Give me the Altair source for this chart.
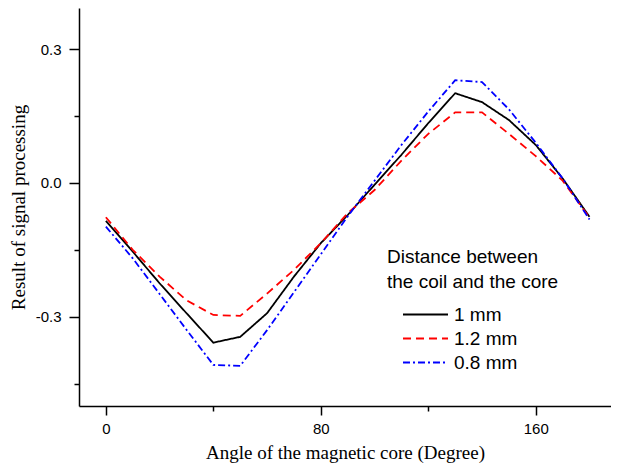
import altair as alt
import pandas as pd

angles = list(range(0, 181, 10))
s_1mm = [-0.085, -0.154, -0.225, -0.292, -0.358, -0.345, -0.292, -0.210, -0.135, -0.072,
         -0.004, 0.063, 0.134, 0.201, 0.181, 0.141, 0.085, 0.010, -0.076]
s_12mm = [-0.077, -0.150, -0.210, -0.263, -0.296, -0.298, -0.248, -0.195, -0.135, -0.068,
          -0.016, 0.050, 0.110, 0.158, 0.158, 0.110, 0.060, 0.005, -0.078]
s_08mm = [-0.098, -0.169, -0.249, -0.329, -0.408, -0.410, -0.330, -0.245, -0.160, -0.075,
          0.005, 0.085, 0.160, 0.230, 0.226, 0.165, 0.090, 0.010, -0.082]
series_names = ["1 mm", "1.2 mm", "0.8 mm"]
series_colors = ["#000000", "#ff0000", "#0000ff"]
series_dashes = [[1, 0], [8, 5], [7, 3, 2, 3]]
x_ticks = [0, 40, 80, 120, 160]
y_ticks = [-0.45, -0.3, -0.15, 0.0, 0.15, 0.3]

rows = []
for name, vals in zip(series_names, [s_1mm, s_12mm, s_08mm]):
    for a, v in zip(angles, vals):
        rows.append({"angle": a, "value": v, "series": name})
df = pd.DataFrame(rows)

legend = alt.Legend(
    title=["Distance between", "the coil and the core"],
    orient="none", legendX=308, legendY=240,
    symbolType="M-3,0H3", symbolSize=225, symbolStrokeWidth=2,
    symbolOffset=29, labelOffset=19,
    labelFont="Liberation Sans", labelFontSize=19, labelColor="black",
    titleFont="Liberation Sans", titleFontSize=19, titleFontWeight="normal",
    titleColor="black", titleLineHeight=25, titlePadding=13,
    rowPadding=4, padding=0,
)

chart = alt.Chart(df).mark_line(strokeWidth=1.8).encode(
    x=alt.X("angle:Q", scale=alt.Scale(domain=[-10, 188], nice=False, zero=False),
            axis=alt.Axis(
                title="Angle of the magnetic core (Degree)",
                values=x_ticks, format="d",
                labelExpr="datum.value % 80 === 0 ? datum.label : ''",
                tickSize={"condition": {"test": "datum.value % 80 !== 0", "value": 5}, "value": 9},
                labelPadding=6, titlePadding=7,
            )),
    y=alt.Y("value:Q", scale=alt.Scale(domain=[-0.5, 0.392], nice=False, zero=False),
            axis=alt.Axis(
                title="Result of signal processing",
                values=y_ticks,
                labelExpr="round(datum.value*100) % 30 === 0 ? replace(format(datum.value, '.1f'), '−', '-') : ''",
                tickSize={"condition": {"test": "round(datum.value*100) % 30 !== 0", "value": 5}, "value": 10},
                labelPadding=8, titlePadding=7,
            )),
    color=alt.Color("series:N", scale=alt.Scale(domain=series_names, range=series_colors), legend=legend),
    strokeDash=alt.StrokeDash("series:N", scale=alt.Scale(domain=series_names, range=series_dashes), legend=legend),
    order=alt.Order("angle:Q"),
).properties(
    width=532, height=398,
    padding={"left": 71, "top": 0, "right": 0, "bottom": 57},
    autosize=alt.AutoSizeParams(type="none"),
).configure_view(stroke=None).configure_axis(
    grid=False, domainColor="black", domainWidth=1.5, tickColor="black", tickWidth=1.5,
    labelFont="Liberation Sans", labelFontSize=15, labelColor="black",
    titleFont="Liberation Serif", titleFontSize=19, titleFontWeight="normal", titleColor="black",
)

chart.save("out.html", embed_options={"renderer": "svg", "actions": False})
